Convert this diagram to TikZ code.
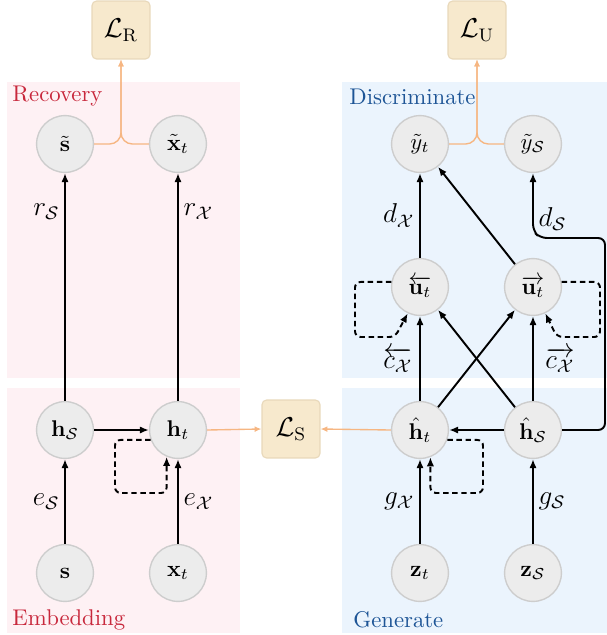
\documentclass[tikz,border=0pt]{standalone}
\usepackage{amsmath,amssymb}
\usetikzlibrary{arrows.meta}
\definecolor{pinkbg}{RGB}{254,241,244}
\definecolor{bluebg}{RGB}{235,244,253}
\definecolor{nodefill}{RGB}{236,236,236}
\definecolor{nodedraw}{RGB}{205,205,205}
\definecolor{lossfill}{RGB}{247,233,205}
\definecolor{lossdraw}{RGB}{232,216,186}
\definecolor{orangeline}{RGB}{246,182,130}
\definecolor{redtext}{RGB}{200,40,60}
\definecolor{bluetext}{RGB}{30,85,150}
\tikzset{
  var/.style={circle, minimum size=25pt, inner sep=0pt, fill=nodefill, draw=nodedraw, line width=0.6pt},
  loss/.style={rectangle, minimum width=25.5pt, minimum height=25.5pt, inner sep=0pt, rounded corners=2pt, fill=lossfill, draw=lossdraw, line width=0.5pt, font=\large},
  arr/.style={-{Latex[length=4pt,width=3.2pt]}, line width=0.85pt, black},
  loopar/.style={-{Latex[length=4pt,width=3.2pt]}, line width=0.85pt, black, dash pattern=on 2.4pt off 1.6pt, rounded corners=2.5pt},
  oarr/.style={-{Latex[length=3pt,width=2.6pt]}, line width=0.6pt, orangeline},
  elab/.style={font=\large, inner sep=2pt},
  region/.style={font=\normalsize, anchor=west, inner sep=0pt}
}
\begin{document}
\begin{tikzpicture}[x=0.44pt,y=-0.44pt]
\useasboundingbox (0,0) rectangle (607,635);
% backgrounds
\fill[pinkbg] (7,82) rectangle (240,378);
\fill[pinkbg] (7,388) rectangle (240,633);
\fill[bluebg] (342,82) rectangle (607,378);
\fill[bluebg] (342,388) rectangle (607,633);
\node[region, text=redtext] (recl) at (12,96) {Recovery};
\node[region, text=bluetext] (disl) at (349,97) {Discriminate};
\node[region, text=redtext] (embl) at (12,620) {Embedding};
\node[region, text=bluetext] (genl) at (353,620) {Generate};
% losses
\node[loss] (LR) at (121,30) {$\mathcal{L}_{\mathrm{R}}$};
\node[loss] (LU) at (477,30) {$\mathcal{L}_{\mathrm{U}}$};
\node[loss] (LS) at (291,429) {$\mathcal{L}_{\mathrm{S}}$};
% variables
\node[var] (st) at (65,144) {$\tilde{\mathbf{s}}$};
\node[var] (xt) at (178,144) {$\tilde{\mathbf{x}}_t$};
\node[var] (yt) at (420,144) {$\tilde{y}_t$};
\node[var] (ys) at (533,144) {$\tilde{y}_{\mathcal{S}}$};
\node[var] (ul) at (420,287) {$\overleftarrow{\mathbf{u}_t}$};
\node[var] (ur) at (533,287) {$\overrightarrow{\mathbf{u}_t}$};
\node[var] (hs) at (65,430) {$\mathbf{h}_{\mathcal{S}}$};
\node[var] (ht) at (178,430) {$\mathbf{h}_t$};
\node[var] (hht) at (420,430) {$\hat{\mathbf{h}}_t$};
\node[var] (hhs) at (533,430) {$\hat{\mathbf{h}}_{\mathcal{S}}$};
\node[var] (s) at (65,573) {$\mathbf{s}$};
\node[var] (x) at (178,573) {$\mathbf{x}_t$};
\node[var] (zt) at (420,573) {$\mathbf{z}_t$};
\node[var] (zs) at (533,573) {$\mathbf{z}_{\mathcal{S}}$};
% orange loss connectors
\draw[oarr, rounded corners=5pt] (st.east) -| (LR.south);
\draw[oarr, rounded corners=5pt] (xt.west) -| (LR.south);
\draw[oarr, rounded corners=5pt] (yt.east) -| (LU.south);
\draw[oarr, rounded corners=5pt] (ys.west) -| (LU.south);
\draw[oarr] (ht.east) -- (LS.west);
\draw[oarr] (hht.west) -- (LS.east);
% embedding / recovery
\draw[arr] (s) -- node[elab, left] {$e_{\mathcal{S}}$} (hs);
\draw[arr] (x) -- node[elab, right] {$e_{\mathcal{X}}$} (ht);
\draw[arr] (hs) -- (ht);
\draw[arr] (hs) -- node[elab, left, pos=0.83] {$r_{\mathcal{S}}$} (st);
\draw[arr] (ht) -- node[elab, right, pos=0.83] {$r_{\mathcal{X}}$} (xt);
\coordinate (la1) at (115,493);
\draw[loopar] (ht.200) -| (la1) -| (ht.-113);
% generation
\draw[arr] (zt) -- node[elab, left] {$g_{\mathcal{X}}$} (hht);
\draw[arr] (zs) -- node[elab, right] {$g_{\mathcal{S}}$} (hhs);
\draw[arr] (hhs) -- (hht);
\coordinate (la2) at (483,493);
\draw[loopar] (hht.-20) -| (la2) -| (hht.-69);
% bidirectional
\draw[arr] (hht) -- (ul);
\draw[arr] (hht) -- (ur);
\draw[arr] (hhs) -- (ul);
\draw[arr] (hhs) -- (ur);
\coordinate (lb1) at (355,337);
\coordinate (lb2) at (395,337);
\draw[loopar] (ul.170) -| (lb1) -- (lb2) -- (ul.-115);
\node[elab] (cl) at (398,360) {$\overleftarrow{c_{\mathcal{X}}}$};
\coordinate (lc1) at (600,337);
\coordinate (lc2) at (557,337);
\draw[loopar] (ur.10) -| (lc1) -- (lc2) -- (ur.-65);
\node[elab] (cr) at (560,360) {$\overrightarrow{c_{\mathcal{X}}}$};
% discriminate
\draw[arr] (ul) -- node[elab, left] {$d_{\mathcal{X}}$} (yt);
\draw[arr] (ur) -- (yt);
\coordinate (d1) at (605,430);
\coordinate (d2) at (605,238);
\coordinate (d3) at (540,238);
\coordinate (d4) at (533,231);
\draw[arr, rounded corners=3pt] (hhs.east) -- (d1) -- (d2) -- (d3) -- (d4) -- node[elab, right, pos=0.2] {$d_{\mathcal{S}}$} (ys.south);
\end{tikzpicture}
\end{document}
